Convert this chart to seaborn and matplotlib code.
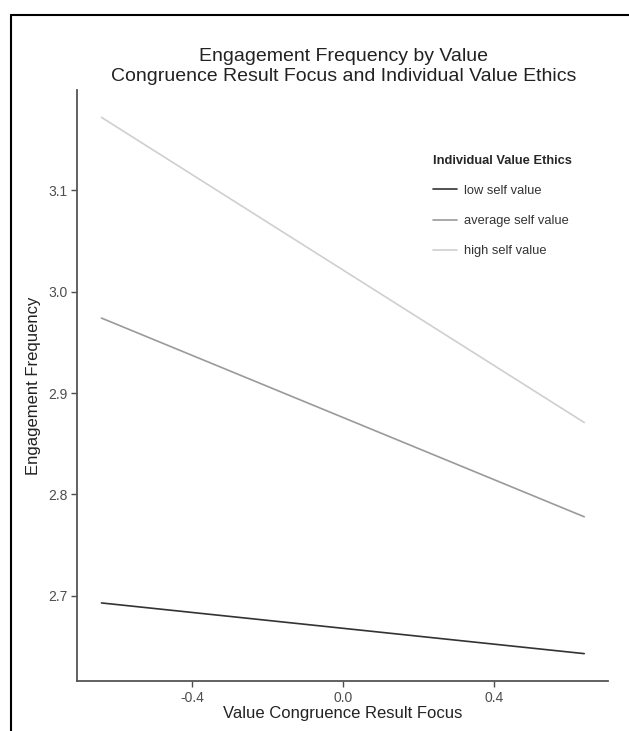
import numpy as np
import pandas as pd
import matplotlib
matplotlib.use("Agg")
import matplotlib.pyplot as plt
from matplotlib.lines import Line2D
import seaborn as sns

# ─── Data ───────────────────────────────────────────────
x_ends = [-0.64, 0.64]
low_vals = [2.693, 2.643]
avg_vals = [2.974, 2.778]
high_vals = [3.172, 2.871]
groups = ["low self value", "average self value", "high self value"]
line_colors = ["#333333", "#9a9a9a", "#cfcfcf"]
x_ticks = [-0.4, 0.0, 0.4]
x_tick_labels = ["-0.4", "0.0", "0.4"]
y_ticks = [2.7, 2.8, 2.9, 3.0, 3.1]

sns.set_style("white")
plt.rcParams["font.family"] = ["Liberation Sans", "DejaVu Sans"]

df = pd.DataFrame({
    "x": x_ends * 3,
    "y": low_vals + avg_vals + high_vals,
    "group": [g for g in groups for _ in x_ends],
})

fig = plt.figure(figsize=(6.29, 7.31), dpi=100)
ax = fig.add_axes([0.1224, 0.0684, 0.8442, 0.8085])

sns.lineplot(data=df, x="x", y="y", hue="group", hue_order=groups,
             palette=dict(zip(groups, line_colors)), linewidth=1.2,
             legend=False, ax=ax)

ax.set_xlim(-0.705, 0.703)
ax.set_ylim(2.616, 3.199)
ax.set_xticks(x_ticks)
ax.set_xticklabels(x_tick_labels)
ax.set_yticks(y_ticks)
ax.tick_params(axis="both", labelsize=10, colors="#4d4d4d", length=4,
               width=1, direction="out", left=True, bottom=True, pad=3)
for lab in ax.get_xticklabels() + ax.get_yticklabels():
    lab.set_color("#4d4d4d")
sns.despine(ax=ax)
for side in ["left", "bottom"]:
    ax.spines[side].set_color("#555555")
    ax.spines[side].set_linewidth(1.3)

ax.set_xlabel("Value Congruence Result Focus", fontsize=12, color="#222222", labelpad=1)
ax.set_ylabel("Engagement Frequency", fontsize=12, color="#222222", labelpad=5)

fig.text(0.546, 0.909,
         "Engagement Frequency by Value\nCongruence Result Focus and Individual Value Ethics",
         ha="center", va="center", fontsize=14, color="#222222", linespacing=1.2)

handles = [Line2D([], [], color=c, linewidth=1.2) for c in line_colors]
leg = ax.legend(handles, groups, title="Individual Value Ethics",
                loc="upper left", bbox_to_anchor=(0.648, 0.91),
                frameon=False, fontsize=9.3, handlelength=1.85,
                handletextpad=0.6, labelspacing=1.4,
                title_fontproperties={"weight": "bold", "size": 9.3})
leg._legend_box.align = "left"
for t in leg.get_texts():
    t.set_color("#333333")

# screenshot frame (top and left edges)
top = 1 - 15 / 731
left = 11 / 629
fig.add_artist(Line2D([left, 1.0], [top, top], color="black",
                      linewidth=1.5, transform=fig.transFigure))
fig.add_artist(Line2D([left, left], [0.0, top], color="black",
                      linewidth=1.5, transform=fig.transFigure))

fig.savefig("out.png", dpi=100, facecolor="white")
